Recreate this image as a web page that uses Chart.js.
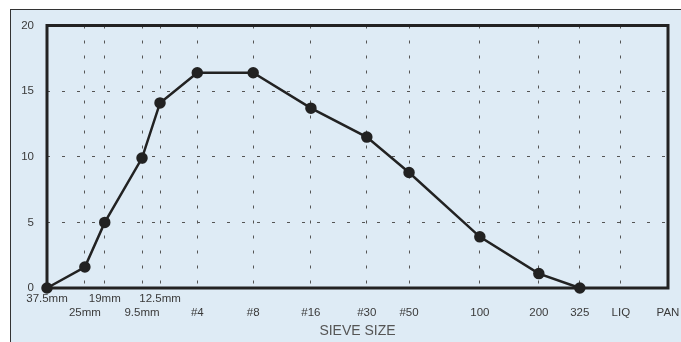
<!DOCTYPE html>
<html>
<head>
<meta charset="utf-8">
<script src="https://cdn.jsdelivr.net/npm/chart.js@4/dist/chart.umd.min.js"></script>
<style>
  html, body { margin: 0; padding: 0; background: #ffffff; }
  #wrap {
    position: absolute; left: 10px; top: 9px;
    width: 671px; height: 333px;
    box-sizing: border-box;
    border-left: 1.5px solid #333; border-top: 1.5px solid #333;
    background: #deebf5;
  }
  #wrap canvas { display: block; }
</style>
</head>
<body>
<div id="wrap"><canvas id="c" width="669" height="331"></canvas></div>
<script>
// Sieve categories, their horizontal positions on the chart (0-100 scale)
const sieveLabels = ["37.5mm", "25mm", "19mm", "9.5mm", "12.5mm", "#4", "#8", "#16", "#30", "#50", "100", "200", "325", "LIQ", "PAN"];
const sievePositions = [0, 6.1, 9.3, 15.3, 18.2, 24.2, 33.2, 42.5, 51.5, 58.3, 69.7, 79.2, 85.8, 92.4, 100];
// Which label row each tick label sits on (1 = upper, 2 = lower)
const labelRows = [1, 2, 1, 2, 1, 2, 2, 2, 2, 2, 2, 2, 2, 2, 2];
// Percent retained on each sieve (null = no point)
const retained = [0, 1.6, 5.0, 9.9, 14.1, 16.4, 16.4, 13.7, 11.5, 8.8, 3.9, 1.1, 0, null, null];
const yTicks = [0, 5, 10, 15, 20];

const points = sievePositions.map((x, i) => ({ x: x, y: retained[i] })).filter(p => p.y !== null);

const frame = {
  id: 'frame',
  afterDraw(chart) {
    const { ctx, chartArea: a } = chart;
    ctx.save();
    ctx.strokeStyle = '#222';
    ctx.lineWidth = 3;
    ctx.strokeRect(a.left, a.top, a.right - a.left, a.bottom - a.top);
    ctx.restore();
  }
};

new Chart(document.getElementById('c'), {
  type: 'scatter',
  data: {
    datasets: [{
      data: points,
      showLine: true,
      borderColor: '#222',
      backgroundColor: '#222',
      borderWidth: 2.5,
      pointRadius: 4.5,
      pointHoverRadius: 4.5,
      clip: false
    }]
  },
  options: {
    responsive: false,
    animation: false,
    layout: { padding: { left: 0, top: 15.5, right: 12, bottom: 0 } },
    plugins: { legend: { display: false }, tooltip: { enabled: false } },
    scales: {
      x: {
        type: 'linear',
        min: sievePositions[0],
        max: sievePositions[sievePositions.length - 1],
        afterBuildTicks(scale) {
          scale.ticks = sievePositions.map(v => ({ value: v }));
        },
        afterFit(scale) {
          scale.height = 53;
          scale.paddingLeft = 0; scale.paddingRight = 0;
        },
        border: { display: false, dash: [3, 12], dashOffset: 0 },
        grid: {
          color: (c) => (c.index === 0 || c.index === sievePositions.length - 1) ? 'rgba(0,0,0,0)' : '#555',
          lineWidth: 1,
          drawTicks: false
        },
        ticks: {
          autoSkip: false,
          maxRotation: 0,
          minRotation: 0,
          padding: 4,
          color: '#3a3a3a',
          font: { family: 'Liberation Sans, Arial, sans-serif', size: 11.5 },
          callback: function(v, i) {
            const lbl = sieveLabels[i];
            return labelRows[i] === 1 ? [lbl] : ['', lbl];
          }
        },
        title: {
          display: true,
          text: 'SIEVE SIZE',
          color: '#555',
          font: { family: 'Liberation Sans, Arial, sans-serif', size: 14 },
          padding: { top: 0, bottom: 1 }
        }
      },
      y: {
        min: 0,
        max: 20,
        afterBuildTicks(scale) {
          scale.ticks = yTicks.map(v => ({ value: v }));
        },
        afterFit(scale) {
          scale.width = 36;
          scale.paddingTop = 0; scale.paddingBottom = 0;
        },
        border: { display: false, dash: [3, 12], dashOffset: 0 },
        grid: {
          color: (c) => (c.index === 0 || c.index === yTicks.length - 1) ? 'rgba(0,0,0,0)' : '#555',
          lineWidth: 1,
          drawTicks: false
        },
        ticks: {
          padding: 13,
          color: '#3a3a3a',
          font: { family: 'Liberation Sans, Arial, sans-serif', size: 11.5 }
        }
      }
    }
  },
  plugins: [frame]
});
</script>
</body>
</html>
